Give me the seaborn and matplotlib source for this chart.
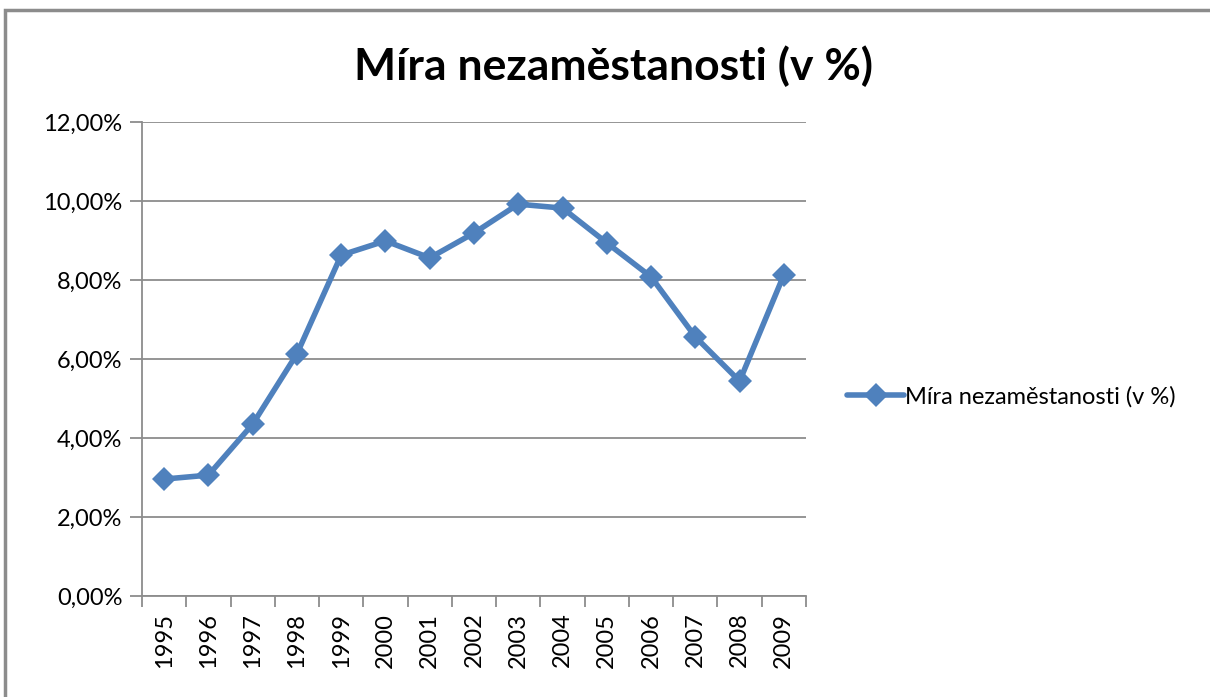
import matplotlib
matplotlib.use("Agg")
import matplotlib.pyplot as plt
import seaborn as sns
import pandas as pd
import numpy as np
from matplotlib.patches import Rectangle
from matplotlib.ticker import FuncFormatter, FixedLocator

years = ["1995", "1996", "1997", "1998", "1999", "2000", "2001", "2002",
         "2003", "2004", "2005", "2006", "2007", "2008", "2009"]
rate = [2.96, 3.06, 4.35, 6.13, 8.63, 8.99, 8.56, 9.19,
        9.92, 9.82, 8.94, 8.08, 6.56, 5.44, 8.13]
series_name = "Míra nezaměstanosti (v %)"
title = "Míra nezaměstanosti (v %)"

sns.set_theme(style="white")
plt.rcParams['font.family'] = ['Lato', 'DejaVu Sans']
plt.rcParams['text.color'] = 'black'
plt.rcParams['xtick.color'] = 'black'
plt.rcParams['ytick.color'] = 'black'

W, H = 1210, 697
fig = plt.figure(figsize=(W / 100, H / 100), dpi=100)
ax = fig.add_axes([142 / W, 1 - 596 / H, (806 - 142) / W, (596 - 122) / H])

df = pd.DataFrame({"pos": np.arange(len(years)), "rate": rate, "series": series_name})
color = "#4F81BD"
sns.lineplot(data=df, x="pos", y="rate", hue="series", palette=[color],
             marker="D", markersize=12, linewidth=4, markeredgewidth=0,
             ax=ax)

ax.set_xlim(-0.5, len(years) - 0.5)
ax.set_ylim(0, 12)
ax.set_yticks(np.arange(0, 12.01, 2))
ax.yaxis.set_major_formatter(FuncFormatter(lambda v, p: f"{v:.2f}".replace(".", ",") + "%"))
ax.yaxis.grid(True, color="#8C8C8C", linewidth=1.3)
ax.set_axisbelow(True)

ax.set_xticks(np.arange(len(years)))
ax.set_xticklabels(years, rotation=90, fontsize=17)
ax.xaxis.set_minor_locator(FixedLocator(np.arange(-0.5, len(years), 1)))
ax.tick_params(axis="x", which="major", length=0, pad=12, labelcolor="black")
ax.tick_params(axis="x", which="minor", length=8, color="#8C8C8C", width=1.3, bottom=True, direction="out")
ax.tick_params(axis="y", which="major", length=9, color="#8C8C8C", width=1.3, left=True,
               labelsize=17, pad=5, labelcolor="black")

for s in ["top", "right"]:
    ax.spines[s].set_visible(False)
for s in ["left", "bottom"]:
    ax.spines[s].set_color("#8C8C8C")
    ax.spines[s].set_linewidth(1.3)

ax.set_xlabel("")
ax.set_ylabel("")

leg = ax.legend(loc="center left", bbox_to_anchor=(1.03, 0.42), frameon=False,
                fontsize=17, handlelength=2.4, handletextpad=0.05)
for t in leg.get_texts():
    t.set_color("black")

fig.text(614 / W, 1 - 66 / H, title, ha="center", va="center",
         fontsize=32, fontweight="bold", color="black")

fig.patches.append(Rectangle((5 / W, -0.1), 1.2, (1 - 10 / H) + 0.1,
                             transform=fig.transFigure, fill=False,
                             edgecolor="#8C8C8C", linewidth=2.5))

fig.savefig("out.png", dpi=100)
